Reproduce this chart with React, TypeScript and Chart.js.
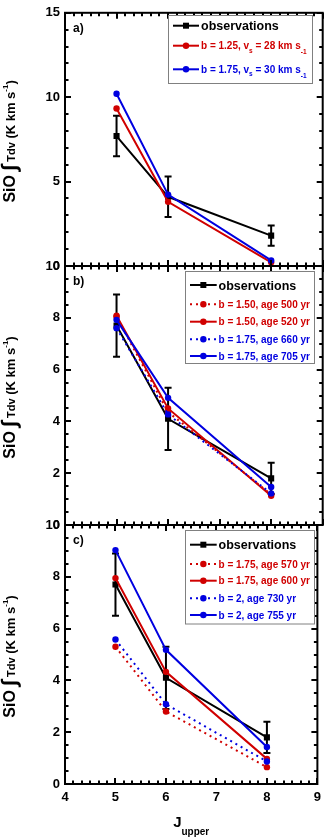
import React, { useEffect, useRef } from 'react';
import { Chart, registerables } from 'chart.js';

Chart.register(...registerables);

const W = 327;
const H = 837;
const FAMILY = '"Liberation Sans", Arial, Helvetica, sans-serif';
const RED = '#d00000';
const BLUE = '#0000e0';

// ---------------- data ----------------
const jUpper = [5, 6, 8];
const xTickValues = [4, 5, 6, 7, 8, 9];

const obsValues = [7.7, 4.1, 1.8];
const obsErrors = [1.2, 1.2, 0.6];

// panel a
const aB125Vs28 = [9.33, 3.8, 0.22];
const aB175Vs30 = [10.2, 4.23, 0.33];

// panel b
const bB150Age500 = [8.04, 4.36, 1.18];
const bB150Age520 = [8.08, 4.5, 1.13];
const bB175Age660 = [7.6, 4.27, 1.22];
const bB175Age705 = [7.92, 4.91, 1.47];

// panel c
const cB175Age570 = [5.3, 2.8, 0.65];
const cB175Age600 = [7.95, 4.33, 0.97];
const cB2Age730 = [5.58, 3.08, 0.87];
const cB2Age755 = [9.03, 5.18, 1.43];

// ---------------- types ----------------
type Series = { label: string; values: number[]; color: string; dotted: boolean; obs?: boolean };
type LegendSpec = { x: number; y: number; w: number; h: number; rows: number[]; line: [number, number]; textX: number };
type Panel = {
  tag: string;
  top: number;
  bottom: number;
  yMax: number;
  yStep: number;
  yMinor: number;
  showX: boolean;
  series: Series[];
  legend: LegendSpec;
};

const obsSeries: Series = { label: 'observations', values: obsValues, color: '#000000', dotted: false, obs: true };

const PANELS: Panel[] = [
  {
    tag: 'a)', top: 6, bottom: 266, yMax: 15, yStep: 5, yMinor: 1, showX: false,
    series: [
      obsSeries,
      { label: 'b = 1.25, v_{s} = 28 km s_{-1}', values: aB125Vs28, color: RED, dotted: false },
      { label: 'b = 1.75, v_{s} = 30 km s_{-1}', values: aB175Vs30, color: BLUE, dotted: false },
    ],
    legend: { x: 168, y: 15, w: 144, h: 68, rows: [25.7, 45.7, 69.3], line: [173, 199], textX: 201 },
  },
  {
    tag: 'b)', top: 266, bottom: 525, yMax: 10, yStep: 2, yMinor: 0.5, showX: false,
    series: [
      obsSeries,
      { label: 'b = 1.50, age 500 yr', values: bB150Age500, color: RED, dotted: true },
      { label: 'b = 1.50, age 520 yr', values: bB150Age520, color: RED, dotted: false },
      { label: 'b = 1.75, age 660 yr', values: bB175Age660, color: BLUE, dotted: true },
      { label: 'b = 1.75, age 705 yr', values: bB175Age705, color: BLUE, dotted: false },
    ],
    legend: { x: 185, y: 271, w: 129, h: 92, rows: [285, 304.3, 321.7, 339.3, 356], line: [190, 216.7], textX: 218.5 },
  },
  {
    tag: 'c)', top: 525, bottom: 784, yMax: 10, yStep: 2, yMinor: 0.5, showX: true,
    series: [
      obsSeries,
      { label: 'b = 1.75, age 570 yr', values: cB175Age570, color: RED, dotted: true },
      { label: 'b = 1.75, age 600 yr', values: cB175Age600, color: RED, dotted: false },
      { label: 'b = 2, age 730 yr', values: cB2Age730, color: BLUE, dotted: true },
      { label: 'b = 2, age 755 yr', values: cB2Age755, color: BLUE, dotted: false },
    ],
    legend: { x: 185, y: 530, w: 129, h: 93.5, rows: [544.7, 564, 580.7, 598.3, 615], line: [190, 216.7], textX: 218.5 },
  },
];

const DOT_DASH = [2, 4];
const X_SUB = 6;

// ---------------- text helpers ----------------
type Seg = { t: string; font: string; dy: number };

function segWidth(ctx: CanvasRenderingContext2D, segs: Seg[]) {
  let w = 0;
  for (const s of segs) {
    ctx.font = s.font;
    w += ctx.measureText(s.t).width;
  }
  return w;
}

function drawSegs(ctx: CanvasRenderingContext2D, segs: Seg[], x: number, y: number, center: boolean) {
  let cx = center ? x - segWidth(ctx, segs) / 2 : x;
  for (const s of segs) {
    ctx.font = s.font;
    ctx.fillText(s.t, cx, y + s.dy);
    cx += ctx.measureText(s.t).width;
  }
}

function parseLabel(label: string, mainFont: string, subFont: string): Seg[] {
  const segs: Seg[] = [];
  const re = /_\{([^}]*)\}/g;
  let last = 0;
  let m: RegExpExecArray | null;
  while ((m = re.exec(label))) {
    if (m.index > last) segs.push({ t: label.slice(last, m.index), font: mainFont, dy: 0 });
    segs.push({ t: m[1], font: subFont, dy: m[1].startsWith('-') ? 5 : 3.5 });
    last = re.lastIndex;
  }
  if (last < label.length) segs.push({ t: label.slice(last), font: mainFont, dy: 0 });
  return segs;
}

// ---------------- plugins ----------------
const errorBarPlugin = {
  id: 'obsErrorBars',
  beforeDatasetsDraw(chart: any) {
    const { ctx, scales } = chart;
    const xs = scales.x;
    const ys = scales.y;
    ctx.save();
    ctx.strokeStyle = '#000';
    ctx.lineWidth = 2;
    ctx.beginPath();
    jUpper.forEach((j, i) => {
      const px = xs.getPixelForValue(j);
      const yTop = ys.getPixelForValue(obsValues[i] + obsErrors[i]);
      const yBot = ys.getPixelForValue(obsValues[i] - obsErrors[i]);
      ctx.moveTo(px, yTop);
      ctx.lineTo(px, yBot);
      ctx.moveTo(px - 3.5, yTop);
      ctx.lineTo(px + 3.5, yTop);
      ctx.moveTo(px - 3.5, yBot);
      ctx.lineTo(px + 3.5, yBot);
    });
    ctx.stroke();
    ctx.restore();
  },
};

const framePlugin = {
  id: 'frameTicks',
  afterDatasetsDraw(chart: any, _args: any, opts: any) {
    const { ctx, chartArea: a, scales } = chart;
    const xs = scales.x;
    const ys = scales.y;
    ctx.save();
    ctx.strokeStyle = '#000';
    ctx.lineWidth = 2;
    ctx.beginPath();
    const nx = Math.round((xs.max - xs.min) * X_SUB);
    for (let i = 0; i <= nx; i++) {
      const v = xs.min + i / X_SUB;
      const px = Math.round(xs.getPixelForValue(v));
      const len = i % X_SUB === 0 ? 6 : 3.5;
      ctx.moveTo(px, a.bottom);
      ctx.lineTo(px, a.bottom - len);
      ctx.moveTo(px, a.top);
      ctx.lineTo(px, a.top + len);
    }
    const per = Math.round(opts.yStep / opts.yMinor);
    const ny = Math.round((ys.max - ys.min) / opts.yMinor);
    for (let i = 0; i <= ny; i++) {
      const v = ys.min + i * opts.yMinor;
      const py = Math.round(ys.getPixelForValue(v));
      const len = i % per === 0 ? 6 : 3.5;
      ctx.moveTo(a.left, py);
      ctx.lineTo(a.left + len, py);
      ctx.moveTo(a.right, py);
      ctx.lineTo(a.right - len, py);
    }
    ctx.stroke();
    ctx.strokeRect(a.left, a.top, a.right - a.left, a.bottom - a.top);
    ctx.restore();
  },
};

const legendPlugin = {
  id: 'panelLegend',
  afterDraw(chart: any, _args: any, opts: any) {
    const spec: LegendSpec = opts.spec;
    const { ctx } = chart;
    ctx.save();
    ctx.fillStyle = '#fff';
    ctx.fillRect(spec.x, spec.y, spec.w, spec.h);
    ctx.strokeStyle = '#808080';
    ctx.lineWidth = 1;
    ctx.strokeRect(spec.x + 0.5, spec.y + 0.5, spec.w, spec.h);
    chart.data.datasets.forEach((ds: any, i: number) => {
      const y = spec.rows[i];
      const [x0, x1] = spec.line;
      const mid = (x0 + x1) / 2;
      ctx.strokeStyle = ds.borderColor;
      ctx.lineWidth = 2;
      ctx.setLineDash(ds.borderDash || []);
      ctx.beginPath();
      ctx.moveTo(x0, y);
      ctx.lineTo(x1, y);
      ctx.stroke();
      ctx.setLineDash([]);
      ctx.fillStyle = ds.borderColor;
      ctx.beginPath();
      if (ds.pointStyle === 'rect') {
        ctx.rect(mid - 3, y - 3, 6, 6);
      } else {
        ctx.arc(mid, y, 3.2, 0, Math.PI * 2);
      }
      ctx.fill();
      ctx.textBaseline = 'alphabetic';
      ctx.textAlign = 'left';
      if (ds.pointStyle === 'rect') {
        drawSegs(ctx, [{ t: ds.label, font: `bold 12.5px ${FAMILY}`, dy: 0 }], spec.textX, y + 4.5, false);
      } else {
        drawSegs(ctx, parseLabel(ds.label, `bold 10px ${FAMILY}`, `bold 6.5px ${FAMILY}`), spec.textX, y + 3.6, false);
      }
    });
    ctx.restore();
  },
};

const titlesPlugin = {
  id: 'panelTitles',
  afterDraw(chart: any, _args: any, opts: any) {
    const { ctx, chartArea: a } = chart;
    ctx.save();
    ctx.fillStyle = '#000';
    ctx.textBaseline = 'alphabetic';
    ctx.textAlign = 'left';
    // panel tag
    ctx.font = `bold 12px ${FAMILY}`;
    ctx.textBaseline = 'middle';
    ctx.fillText(opts.tag, 73, a.top + 16);
    ctx.textBaseline = 'alphabetic';
    // y title (rotated)
    const ySegs: Seg[] = [
      { t: 'SiO ', font: `bold 16px ${FAMILY}`, dy: 0 },
      { t: '\u222B', font: `bold 21px ${FAMILY}`, dy: 1 },
      { t: ' Tdv', font: `bold 11px ${FAMILY}`, dy: 0 },
      { t: ' (K km s', font: `bold 13px ${FAMILY}`, dy: 0 },
      { t: '-1', font: `bold 8px ${FAMILY}`, dy: -7 },
      { t: ')', font: `bold 13px ${FAMILY}`, dy: 0 },
    ];
    ctx.translate(15, (a.top + a.bottom) / 2 + 2);
    ctx.rotate(-Math.PI / 2);
    drawSegs(ctx, ySegs, 0, 0, true);
    ctx.setTransform(1, 0, 0, 1, 0, 0);
    // x title
    if (opts.showX) {
      const xSegs: Seg[] = [
        { t: 'J', font: `bold 15px ${FAMILY}`, dy: 0 },
        { t: 'upper', font: `bold 10px ${FAMILY}`, dy: 8 },
      ];
      drawSegs(ctx, xSegs, (a.left + a.right) / 2, 827, true);
    }
    ctx.restore();
  },
};

// ---------------- config ----------------
function buildConfig(p: Panel): any {
  const n = p.series.length;
  const datasets = p.series.map((s, i) => ({
    label: s.label,
    data: jUpper.map((x, k) => ({ x, y: s.values[k] })),
    borderColor: s.color,
    backgroundColor: s.color,
    borderWidth: 2,
    borderDash: s.dotted ? DOT_DASH : [],
    pointStyle: s.obs ? 'rect' : 'circle',
    pointRadius: s.obs ? 4.3 : 3.2,
    pointBorderWidth: 0,
    pointBackgroundColor: s.color,
    tension: 0,
    fill: false,
    order: n - i,
  }));
  const tickFont = { family: FAMILY, size: 13, weight: 'bold' as const };
  return {
    type: 'line',
    data: { datasets },
    options: {
      animation: false,
      responsive: false,
      maintainAspectRatio: false,
      devicePixelRatio: 1,
      events: [],
      layout: { padding: { top: p.top, bottom: p.showX ? 0 : H - p.bottom, left: 0, right: W - 323 } },
      plugins: {
        legend: { display: false },
        tooltip: { enabled: false },
        title: { display: false },
        frameTicks: { yStep: p.yStep, yMinor: p.yMinor },
        panelLegend: { spec: p.legend },
        panelTitles: { tag: p.tag, showX: p.showX },
      },
      scales: {
        x: {
          type: 'linear',
          min: xTickValues[0],
          max: xTickValues[xTickValues.length - 1],
          display: p.showX,
          grid: { display: false, drawTicks: false },
          border: { display: false },
          ticks: { stepSize: 1, font: tickFont, color: '#000', padding: 6 },
          afterFit: (s: any) => {
            s.height = p.showX ? H - p.bottom : 0;
          },
        },
        y: {
          type: 'linear',
          min: 0,
          max: p.yMax,
          grid: { display: false, drawTicks: false },
          border: { display: false },
          ticks: { stepSize: p.yStep, font: tickFont, color: '#000', padding: 5 },
          afterFit: (s: any) => {
            s.width = 65;
          },
        },
      },
    },
    plugins: [errorBarPlugin, framePlugin, legendPlugin, titlesPlugin],
  };
}

export default function App() {
  const refs = useRef<(HTMLCanvasElement | null)[]>([]);
  useEffect(() => {
    const charts = PANELS.map((p, i) => new Chart(refs.current[i] as HTMLCanvasElement, buildConfig(p)));
    return () => charts.forEach((c) => c.destroy());
  }, []);
  return (
    <div style={{ position: 'absolute', left: 0, top: 0, width: W, height: H, background: '#fff' }}>
      {PANELS.map((p, i) => (
        <canvas
          key={p.tag}
          ref={(el) => {
            refs.current[i] = el;
          }}
          width={W}
          height={H}
          style={{ position: 'absolute', left: 0, top: 0, width: W, height: H }}
        />
      ))}
    </div>
  );
}
